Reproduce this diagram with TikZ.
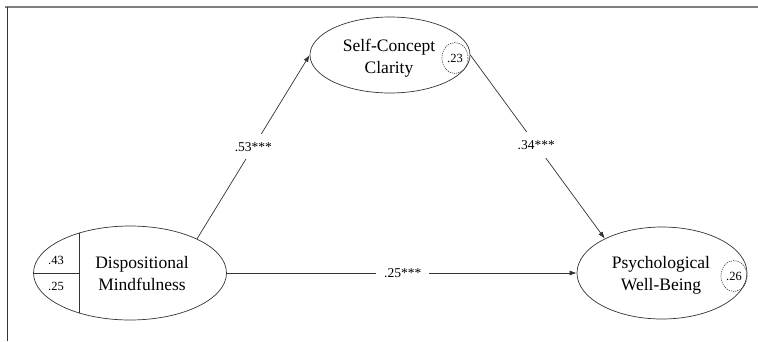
\documentclass[tikz,border=0pt]{standalone}
\usepackage{fontspec}
\setmainfont{Liberation Serif}
\usetikzlibrary{shapes.geometric,arrows.meta}
\tikzset{
  latent/.style={draw=black!80, line width=0.7pt, ellipse, inner sep=0pt},
  bigtext/.style={align=center, font=\fontsize{17.5}{22}\selectfont, inner sep=0pt},
  resid/.style={draw=black!75, line width=0.6pt, ellipse, dash pattern=on 1.2pt off 1pt,
    minimum width=26pt, minimum height=31pt, inner sep=0pt, font=\fontsize{12.5}{14}\selectfont},
  path/.style={draw=black!80, line width=0.7pt, -{Latex[length=7pt,width=5pt]}},
  coef/.style={fill=white, inner sep=8pt, font=\fontsize{13.5}{16}\selectfont},
  small/.style={font=\fontsize{12.5}{14}\selectfont, inner sep=0pt}
}
\begin{document}
\begin{tikzpicture}[x=1pt,y=-1pt]
\useasboundingbox (0,0) rectangle (758,341);
% frame
\draw[black!50, line width=2pt] (5,7) -- (758,7);
\draw[black!80, line width=0.8pt] (7,7) -- (7,341);

% Dispositional Mindfulness
\node[latent, minimum width=193pt, minimum height=94pt] (dm) at (130,273) {};
\begin{scope}
  \clip (130,273) ellipse [x radius=96.5pt, y radius=47pt];
  \draw[black!80, line width=0.7pt] (79,200) -- (79,350);
  \draw[black!80, line width=0.7pt] (20,273) -- (79,273);
\end{scope}
\node[small] (dmA) at (56,260) {.43};
\node[small] (dmB) at (56,286) {.25};
\node[bigtext] (dmtext) at (142,274) {Dispositional\\Mindfulness};

% Self-Concept Clarity
\node[latent, minimum width=160pt, minimum height=76pt] (scc) at (390,55) {};
\node[bigtext] (scctext) at (389,58) {Self-Concept\\Clarity};
\node[resid] (sccr) at (455,58) {.23};

% Psychological Well-Being
\node[latent, minimum width=170pt, minimum height=92pt] (pwb) at (662,273) {};
\node[bigtext] (pwbtext) at (661,275) {Psychological\\Well-Being};
\node[resid] (pwbr) at (734,276) {.26};

% paths
\draw[path] (dm.27) -- (scc.west) node[coef, pos=0.5] {.53***};
\draw[path] (scc.east) -- (pwb.149) node[coef, pos=0.49] {.34***};
\draw[path] (dm.east) -- (pwb.west) node[coef, pos=0.503] {.25***};
\end{tikzpicture}
\end{document}
